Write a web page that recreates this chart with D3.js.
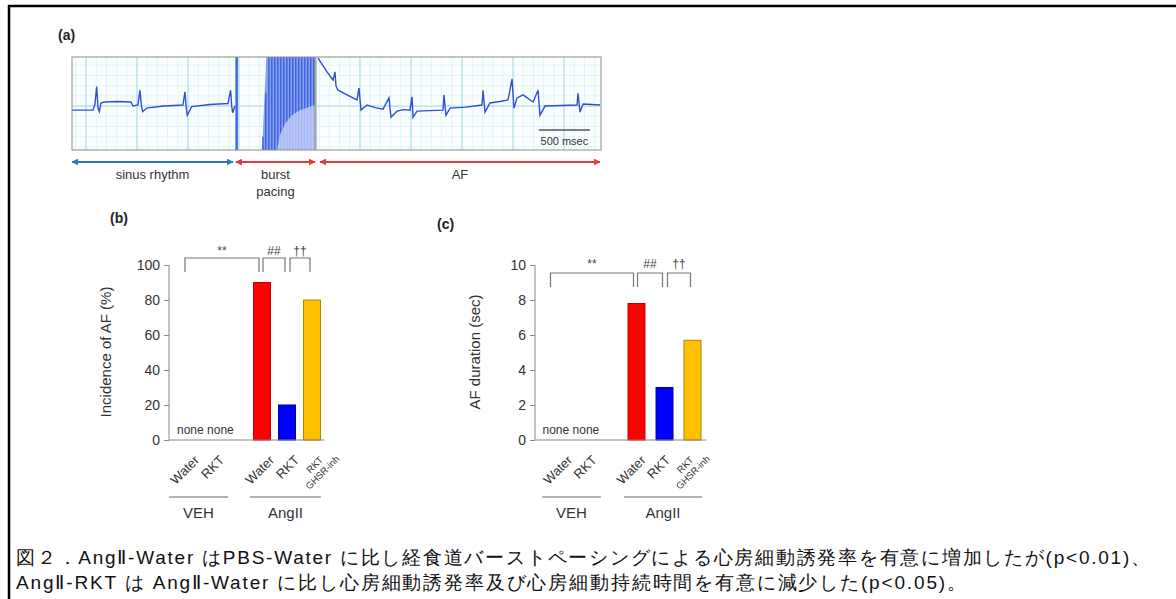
<!DOCTYPE html>
<meta charset="utf-8">
<style>
body { margin: 0; background: #fff; }
svg { display: block; }
text { font-family: "Liberation Sans", Arial, sans-serif; }
</style>
<svg width="1176" height="599"></svg>
<script src="https://d3js.org/d3.v7.min.js"></script>
<script>

// ---- data: bar panels ----
var slots = ["VEH-Water", "VEH-RKT", "gap", "AngII-Water", "AngII-RKT", "AngII-RKT GHSR-inh"];
var categories = ["VEH-Water", "VEH-RKT", "AngII-Water", "AngII-RKT", "AngII-RKT GHSR-inh"];
var catLabels = ["Water", "RKT", "Water", "RKT", "RKT|GHSR-inh"];
var groups = ["VEH", "AngII"];
var incidence = [0, 0, 90, 20, 80];      // Incidence of AF (%)
var duration = [0, 0, 7.8, 3.0, 5.7];    // AF duration (sec)
var incidenceTicks = [0, 20, 40, 60, 80, 100];
var durationTicks = [0, 2, 4, 6, 8, 10];
var sigLabels = ["**", "##", "\u2020\u2020"];
var sigPairs = [["VEH-Water", "AngII-Water"], ["AngII-Water", "AngII-RKT"], ["AngII-RKT", "AngII-RKT GHSR-inh"]];

// ---- data: ECG traces (time ms, mV) ----
var sinusT = [0, 206, 225, 242, 255, 268, 284, 314, 450, 578, 598, 647, 666, 681, 693, 732, 900, 1088, 1107, 1120, 1130, 1173, 1350, 1529, 1555, 1565, 1575, 1597];
var sinusV = [-0.08, -0.08, 0.04, 0.38, -0.04, -0.11, 0.06, 0.08, 0.09, 0.08, 0, 0.02, 0.31, 0, -0.11, -0.04, 0, 0.02, 0.28, -0.04, -0.18, -0.01, 0.03, 0.05, 0.31, 0, -0.13, 0];
var stimT = 1614;
var pacingT = [1872, 1900, 1930, 1959, 1988, 2018, 2047, 2076, 2106, 2135, 2164, 2194, 2223, 2252, 2282, 2311, 2340, 2370];
var pacingTop = [-0.6, 0.25, 1, 1, 1, 1, 1, 1, 1, 1, 1, 1, 1, 1, 1, 1, 1, 1];
var burstFloorT = [2000, 2009, 2038, 2087, 2156, 2234, 2382];
var burstFloorV = [-0.9, -0.86, -0.57, -0.35, -0.18, -0.08, 0.02];
var afT = [20, 108, 167, 186, 196, 216, 304, 402, 421, 441, 500, 580, 657, 715, 735, 794, 860, 921, 941, 951, 990, 1120, 1245, 1254, 1274, 1313, 1470, 1627, 1637, 1656, 1705, 1800, 1882, 1921, 1940, 1970, 2029, 2127, 2176, 2195, 2244, 2400, 2558, 2568, 2587, 2617, 2700, 2783];
var afV = [0.94, 0.67, 0.51, 0.67, 0.39, 0.31, 0.22, 0.12, 0.35, -0.08, 0.02, -0.03, -0.06, 0.16, -0.22, -0.1, -0.07, -0.08, 0.18, -0.22, -0.1, -0.09, -0.08, 0.22, -0.18, -0.04, -0.02, 0.02, 0.31, -0.12, 0.06, 0.09, 0.12, 0.53, -0.04, 0.16, 0.22, 0.08, 0.31, -0.18, 0, 0.01, 0.02, 0.25, -0.12, 0.04, 0.03, 0.02];

var caption1 = "図２．AngⅡ-Water はPBS-Water に比し経食道バーストペーシングによる心房細動誘発率を有意に増加したが(p<0.01)、";
var caption2 = "AngⅡ-RKT は AngⅡ-Water に比し心房細動誘発率及び心房細動持続時間を有意に減少した(p<0.05)。";

var svg = d3.select("svg");
var barColors = {"AngII-Water": "#ff0000", "AngII-RKT": "#0000ff", "AngII-RKT GHSR-inh": "#ffc000"};
var barStroke = {"AngII-Water": "#c00000", "AngII-RKT": "#0000a0", "AngII-RKT GHSR-inh": "#b08400"};

// frame (only top and left edges visible)
svg.append("line").attr("x1", 8).attr("x2", 1176).attr("y1", 6).attr("y2", 6).attr("stroke", "#000").attr("stroke-width", 2.5);
svg.append("line").attr("x1", 9).attr("x2", 9).attr("y1", 5).attr("y2", 599).attr("stroke", "#000").attr("stroke-width", 2.5);

function panelLetter(t, x, y) {
  svg.append("text").attr("x", x).attr("y", y).attr("font-size", 14).attr("font-weight", "bold").attr("fill", "#222").text(t);
}
panelLetter("(a)", 58, 40);
panelLetter("(b)", 110, 223);
panelLetter("(c)", 437, 229);

// ---- ECG ----
var yE = d3.scaleLinear().domain([-0.86, 0.96]).range([150, 57]);
var xL = d3.scaleLinear().domain([0, 2382]).range([72, 315]);
var xR = d3.scaleLinear().domain([0, 2793]).range([316, 601]);

function ecgBox(x, gridOff, id) {
  var g = svg.append("g");
  var t1 = x.domain()[1];
  g.append("clipPath").attr("id", id).append("rect")
    .attr("x", x.range()[0]).attr("y", yE.range()[1]).attr("width", x.range()[1] - x.range()[0]).attr("height", yE.range()[0] - yE.range()[1]);
  g.append("rect").attr("x", x.range()[0]).attr("y", yE.range()[1]).attr("width", x.range()[1] - x.range()[0]).attr("height", yE.range()[0] - yE.range()[1]).attr("fill", "#fbfeff");
  g.selectAll(".vmin").data(d3.range(gridOff % 100, t1, 100)).enter().append("line")
    .attr("x1", x).attr("x2", x).attr("y1", yE.range()[1]).attr("y2", yE.range()[0]).attr("stroke", "#d9f1f6").attr("stroke-width", 0.8);
  g.selectAll(".hmin").data(d3.range(-0.8, 0.95, 0.2)).enter().append("line")
    .attr("x1", x.range()[0]).attr("x2", x.range()[1]).attr("y1", yE).attr("y2", yE).attr("stroke", "#d9f1f6").attr("stroke-width", 0.8);
  g.selectAll(".vmaj").data(d3.range(gridOff, t1, 500)).enter().append("line")
    .attr("x1", x).attr("x2", x).attr("y1", yE.range()[1]).attr("y2", yE.range()[0]).attr("stroke", "#a6dce8").attr("stroke-width", 1);
  g.append("line").attr("x1", x.range()[0]).attr("x2", x.range()[1]).attr("y1", yE(0)).attr("y2", yE(0)).attr("stroke", "#a6dce8").attr("stroke-width", 1);
  return g;
}

var gl = ecgBox(xL, 137, "clipL");
var gr = ecgBox(xR, 431, "clipR");

var sinusLine = d3.line().x(function(d, i) { return xL(sinusT[i]); }).y(function(d) { return yE(d); });
gl.append("path").attr("d", sinusLine(sinusV)).attr("fill", "none").attr("stroke", "#2f4fd6").attr("stroke-width", 1.4).attr("clip-path", "url(#clipL)");
gl.append("line").attr("x1", xL(stimT)).attr("x2", xL(stimT)).attr("y1", yE.range()[1]).attr("y2", yE.range()[0]).attr("stroke", "#3a66e6").attr("stroke-width", 2.5);

// burst region
var bb = gl.append("g").attr("clip-path", "url(#clipL)");
bb.append("path").attr("d", d3.line()([[xL(1862), yE(-0.9)], [xL(1905), yE(1)], [xL(2382), yE(1)], [xL(2382), yE(-0.9)]]))
  .attr("fill", "#86a2f2");
bb.selectAll(".pace").data(pacingT).enter().append("line")
  .attr("x1", function(d) { return xL(d); }).attr("x2", function(d) { return xL(d); })
  .attr("y1", yE(-0.9)).attr("y2", function(d, i) { return yE(pacingTop[i]); })
  .attr("stroke", "#2f54dc").attr("stroke-width", 1.2);
var floorPts = burstFloorT.map(function(t, i) { return [xL(t), yE(burstFloorV[i])]; });
floorPts.push([xL(2382), yE(-0.9)]);
bb.append("path").attr("d", d3.line()(floorPts)).attr("fill", "#c4d1f7").attr("opacity", 0.8);
gl.append("rect").attr("x", xL.range()[0]).attr("y", yE.range()[1]).attr("width", xL.range()[1] - xL.range()[0]).attr("height", yE.range()[0] - yE.range()[1]).attr("fill", "none").attr("stroke", "#8c8c8c");

var afLine = d3.line().x(function(d, i) { return xR(afT[i]); }).y(function(d) { return yE(d); });
gr.append("path").attr("d", afLine(afV)).attr("fill", "none").attr("stroke", "#2f4fd6").attr("stroke-width", 1.4).attr("clip-path", "url(#clipR)");
gr.append("rect").attr("x", xR.range()[0]).attr("y", yE.range()[1]).attr("width", xR.range()[1] - xR.range()[0]).attr("height", yE.range()[0] - yE.range()[1]).attr("fill", "none").attr("stroke", "#8c8c8c");

// scale bar 500 msec
gr.append("line").attr("x1", xR(2184)).attr("x2", xR(2684)).attr("y1", yE(-0.47)).attr("y2", yE(-0.47)).attr("stroke", "#555").attr("stroke-width", 1.5);
gr.append("text").attr("x", xR(2434)).attr("y", 145).attr("text-anchor", "middle").attr("font-size", 11).attr("fill", "#333").text("500 msec");

// arrows
var defs = svg.append("defs");
function marker(id, color, orient) {
  defs.append("marker").attr("id", id).attr("viewBox", "0 0 10 10").attr("refX", 9).attr("refY", 5)
    .attr("markerWidth", 7).attr("markerHeight", 7).attr("markerUnits", "userSpaceOnUse").attr("orient", orient)
    .append("path").attr("d", "M0,0L10,5L0,10z").attr("fill", color);
}
marker("ab", "#2e78c0", "auto-start-reverse");
marker("ar", "#e53a35", "auto-start-reverse");
function arrow(x1, x2, col, id) {
  svg.append("line").attr("x1", x1).attr("x2", x2).attr("y1", 162).attr("y2", 162)
    .attr("stroke", col).attr("stroke-width", 2).attr("marker-start", "url(#" + id + ")").attr("marker-end", "url(#" + id + ")");
}
arrow(xL(0), xL(1578), "#2e78c0", "ab");
arrow(xL(1607), xL(2382), "#e53a35", "ar");
arrow(xR(39), xR(2783), "#e53a35", "ar");
function ecgLabel(t, x, y) {
  svg.append("text").attr("x", x).attr("y", y).attr("text-anchor", "middle").attr("font-size", 13).attr("fill", "#333").text(t);
}
ecgLabel("sinus rhythm", (xL(0) + xL(1578)) / 2, 179);
ecgLabel("burst", (xL(1607) + xL(2382)) / 2, 179);
ecgLabel("pacing", (xL(1607) + xL(2382)) / 2, 196);
ecgLabel("AF", (xR(39) + xR(2783)) / 2, 179);

// ---- bar panels ----
function barPanel(cfg) {
  var g = svg.append("g");
  var x = d3.scaleBand().domain(slots).range(cfg.bandRange).paddingInner(cfg.pIn).paddingOuter(cfg.pIn / 2);
  var xl = d3.scalePoint().domain(slots).range(cfg.labelRange);
  var y = d3.scaleLinear().domain([0, cfg.ticks[cfg.ticks.length - 1]]).range([440, 265]);
  var cx = function(k) { return x(k) + x.bandwidth() / 2; };

  var ax = g.append("g").attr("transform", "translate(" + cfg.axisX + ",0)")
    .call(d3.axisLeft(y).tickValues(cfg.ticks).tickSize(5).tickPadding(4));
  ax.select(".domain").attr("stroke", "#888").attr("d", "M0," + y(0) + "V" + y(cfg.ticks[cfg.ticks.length - 1]));
  ax.selectAll(".tick line").attr("stroke", "#888");
  ax.selectAll(".tick text").attr("font-size", 14).attr("fill", "#333").attr("font-family", "Liberation Sans, Arial, sans-serif");

  g.append("text").attr("transform", "translate(" + cfg.labelX + ",352) rotate(-90)")
    .attr("text-anchor", "middle").attr("dominant-baseline", "central").attr("font-size", 15).attr("fill", "#333").text(cfg.yLabel);

  g.selectAll(".bar").data(categories.filter(function(c, i) { return cfg.values[i] > 0; })).enter().append("rect")
    .attr("x", function(c) { return x(c); }).attr("width", x.bandwidth())
    .attr("y", function(c) { return y(cfg.values[categories.indexOf(c)]); })
    .attr("height", function(c) { return y(0) - y(cfg.values[categories.indexOf(c)]); })
    .attr("fill", function(c) { return barColors[c]; }).attr("stroke", function(c) { return barStroke[c]; }).attr("stroke-width", 1);

  g.append("line").attr("x1", cfg.axisX).attr("x2", cfg.bandRange[1]).attr("y1", y(0)).attr("y2", y(0)).attr("stroke", "#888").attr("stroke-width", 1.2);

  g.append("text").attr("x", cx(categories[0]) - 10).attr("y", 434).attr("font-size", 12).attr("fill", "#333")
    .text(categories.filter(function(c, i) { return cfg.values[i] === 0; }).map(function() { return "none"; }).join(" "));

  // significance brackets
  var offs = [[-2, -3], [1, -2], [3, -2]];
  sigPairs.forEach(function(p, i) {
    var a = cx(p[0]) + offs[i][0], b = cx(p[1]) + offs[i][1];
    g.append("path").attr("d", "M" + a + "," + cfg.sigBottom + "V" + cfg.sigTop + "H" + b + "V" + cfg.sigBottom)
      .attr("fill", "none").attr("stroke", "#777").attr("stroke-width", 1.2);
    g.append("text").attr("x", (a + b) / 2).attr("y", cfg.sigText).attr("text-anchor", "middle").attr("font-size", 12).attr("fill", "#444").text(sigLabels[i]);
  });

  // category labels
  categories.forEach(function(c, i) {
    var parts = catLabels[i].split("|");
    if (parts.length === 1) {
      g.append("text").attr("transform", "translate(" + xl(c) + ",461) rotate(-45)")
        .attr("text-anchor", "end").attr("font-size", 13).attr("fill", "#333").text(parts[0]);
    } else {
      var t = g.append("text").attr("transform", "translate(" + (xl(c) - 8) + ",467) rotate(-45)")
        .attr("text-anchor", "middle").attr("font-size", 9.5).attr("fill", "#333");
      t.append("tspan").attr("x", 0).attr("dy", 0).text(parts[0]);
      t.append("tspan").attr("x", 0).attr("dy", 11).text(parts[1]);
    }
  });

  // group lines
  groups.forEach(function(gname, gi) {
    var x1 = cfg.groupSpans[gi][0], x2 = cfg.groupSpans[gi][1];
    g.append("line").attr("x1", x1).attr("x2", x2).attr("y1", 497).attr("y2", 497).attr("stroke", "#666").attr("stroke-width", 1.2);
    g.append("text").attr("x", (x1 + x2) / 2).attr("y", 518).attr("text-anchor", "middle").attr("font-size", 15).attr("fill", "#333").text(gname);
  });
}

barPanel({values: incidence, ticks: incidenceTicks, yLabel: "Incidence of AF (%)", axisX: 169, labelX: 105,
  bandRange: [174.5, 324.5], pIn: 0.32, labelRange: [200, 325],
  sigTop: 258, sigBottom: 272, sigText: 255, groupSpans: [[169, 228], [250, 321]]});
barPanel({values: duration, ticks: durationTicks, yLabel: "AF duration (sec)", axisX: 535, labelX: 474,
  bandRange: [538.5, 706.5], pIn: 0.393, labelRange: [573, 695.5],
  sigTop: 273, sigBottom: 287, sigText: 268, groupSpans: [[542, 601], [624, 702]]});

// caption
svg.append("text").attr("x", 16).attr("y", 564).attr("font-family", "Noto Sans CJK JP").attr("font-size", 19).attr("fill", "#111")
  .attr("textLength", 1134).attr("lengthAdjust", "spacing").text(caption1);
svg.append("text").attr("x", 16).attr("y", 589).attr("font-family", "Noto Sans CJK JP").attr("font-size", 19).attr("fill", "#111")
  .attr("textLength", 950).attr("lengthAdjust", "spacing").text(caption2);

</script>
